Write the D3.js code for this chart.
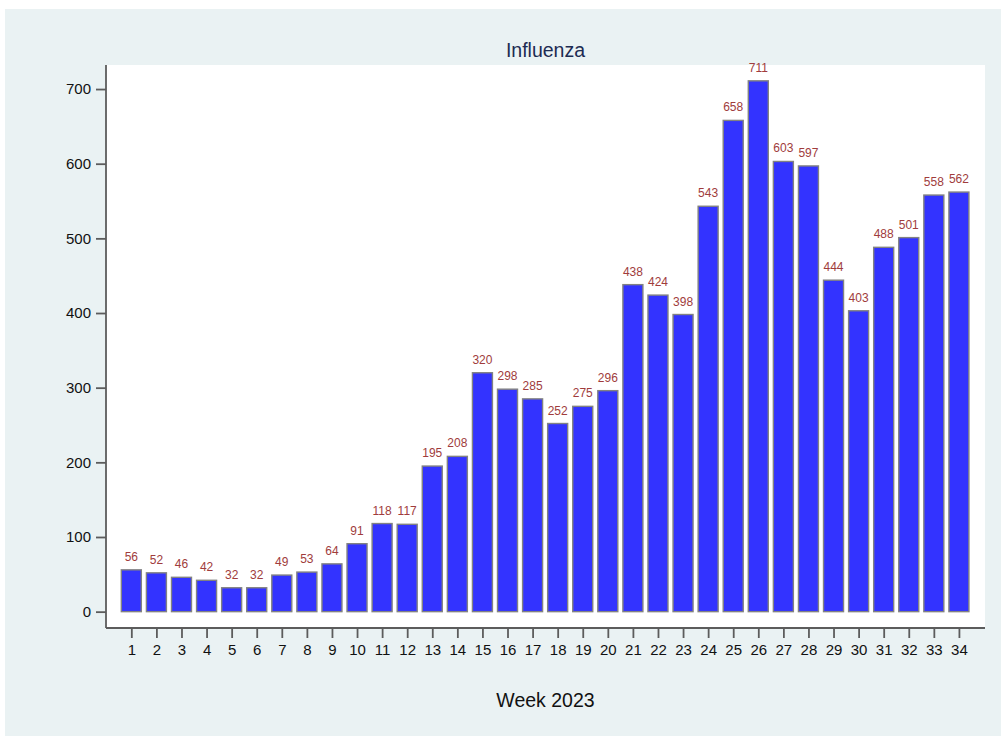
<!DOCTYPE html>
<html>
<head>
<meta charset="utf-8">
<script src="https://cdn.jsdelivr.net/npm/d3@7"></script>
<style>
  body { margin: 0; background: #fff; }
  svg { display: block; font-family: "Liberation Sans", Arial, sans-serif; }
</style>
</head>
<body>
<div id="chart"></div>
<script>
// data: weekly influenza counts, 2023
const weeks = d3.range(1, 35);
const cases = [56, 52, 46, 42, 32, 32, 49, 53, 64, 91, 118, 117, 195, 208, 320, 298, 285, 252,
  275, 296, 438, 424, 398, 543, 658, 711, 603, 597, 444, 403, 488, 501, 558, 562];
const yTicks = [0, 100, 200, 300, 400, 500, 600, 700];

const width = 1001;
const height = 736;
const plot = { left: 106, right: 985, top: 65, bottom: 628 };

const svg = d3.select("#chart").append("svg")
  .attr("width", width)
  .attr("height", height);

// outer background
svg.append("rect")
  .attr("x", 5).attr("y", 9)
  .attr("width", width - 5).attr("height", height - 9)
  .attr("fill", "#eaf2f3");

// plot region
svg.append("rect")
  .attr("x", plot.left).attr("y", plot.top)
  .attr("width", plot.right - plot.left).attr("height", plot.bottom - plot.top)
  .attr("fill", "#fff");

const data = weeks.map((w, i) => ({ week: w, n: cases[i] }));

// scales
const x = d3.scaleLinear().domain([-0.01, 35.04]).range([plot.left, plot.right]);
const y = d3.scaleLinear().domain([-21.9, 732.2]).range([plot.bottom, plot.top]);
const barW = 20;

// bars
svg.append("g").selectAll("rect")
  .data(data)
  .join("rect")
  .attr("x", d => x(d.week) - barW / 2)
  .attr("y", d => y(d.n))
  .attr("width", barW)
  .attr("height", d => y(0) - y(d.n))
  .attr("fill", "#3333ff")
  .attr("stroke", "#828282")
  .attr("stroke-width", 1.4);

// value labels
svg.append("g").selectAll("text")
  .data(data)
  .join("text")
  .attr("x", d => x(d.week))
  .attr("y", d => y(d.n) - 9)
  .attr("text-anchor", "middle")
  .attr("font-size", 12)
  .attr("fill", "#a03c3c")
  .text(d => d.n);

// axes
const xAxis = d3.axisBottom(x).tickValues(weeks).tickSize(10).tickPadding(6).tickFormat(d3.format("d"));
const yAxis = d3.axisLeft(y).tickValues(yTicks).tickSize(10).tickPadding(5);

const gx = svg.append("g")
  .attr("transform", `translate(0,${plot.bottom})`)
  .call(xAxis);
gx.select(".domain").attr("d", `M${plot.left},0H${plot.right}`);

const gy = svg.append("g")
  .attr("transform", `translate(${plot.left},0)`)
  .call(yAxis);
gy.select(".domain").attr("d", `M0,${plot.top}V${plot.bottom}`);

svg.selectAll(".domain, .tick line")
  .attr("stroke", "#5c5c5c")
  .attr("stroke-width", 1.8);
svg.selectAll(".tick text")
  .attr("font-size", 15)
  .attr("font-family", "Liberation Sans, Arial, sans-serif")
  .attr("fill", "#111");

// titles
svg.append("text")
  .attr("x", (plot.left + plot.right) / 2)
  .attr("y", 56.5)
  .attr("text-anchor", "middle")
  .attr("font-size", 19.5)
  .attr("fill", "#1d2b52")
  .text("Influenza");

svg.append("text")
  .attr("x", (plot.left + plot.right) / 2)
  .attr("y", 707)
  .attr("text-anchor", "middle")
  .attr("font-size", 19.5)
  .attr("fill", "#111")
  .text("Week 2023");
</script>
</body>
</html>
